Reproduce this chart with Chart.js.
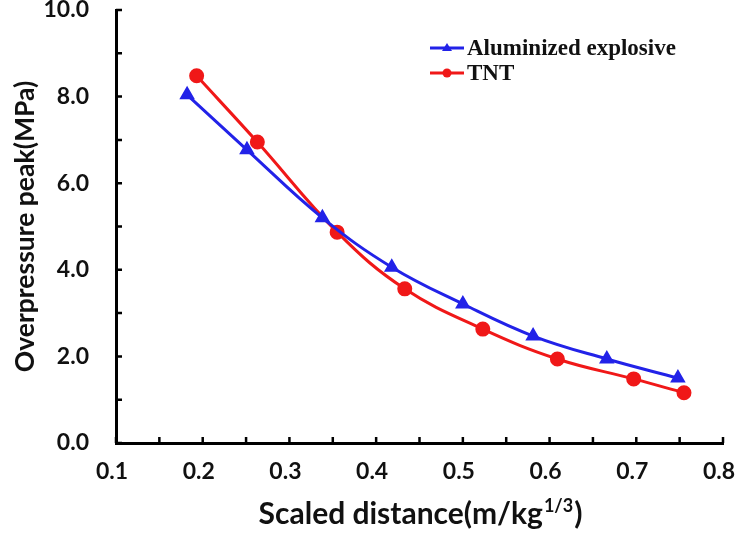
<!DOCTYPE html>
<html>
<head>
<meta charset="utf-8">
<script src="https://cdn.jsdelivr.net/npm/chart.js@4.4.0/dist/chart.umd.min.js"></script>
<style>
  body { margin: 0; background: #fff; }
  #wrap { width: 737px; height: 533px; }
</style>
</head>
<body>
<div id="wrap"><canvas id="myChart" width="737" height="533"></canvas></div>
<script>
// values
var aluX = [0.182, 0.251, 0.338, 0.418, 0.500, 0.581, 0.666, 0.748];
var aluY = [8.04, 6.77, 5.20, 4.06, 3.21, 2.47, 1.94, 1.50];
var tntX = [0.193, 0.263, 0.355, 0.433, 0.523, 0.609, 0.697, 0.755];
var tntY = [8.48, 6.95, 4.87, 3.56, 2.63, 1.94, 1.48, 1.16];
var seriesNames = ["Aluminized explosive", "TNT"];
var yTitle = "Overpressure peak(MPa)";
var xTitle = ["Scaled distance(m/kg", "1/3", ")"];

function toPoints(xs, ys) {
  return xs.map(function (x, i) { return { x: x, y: ys[i] }; });
}

var blue = "#2222e8";
var red = "#f01818";
var tickFont = { family: "Lato", size: 23, weight: "bold" };

// inward tick marks on both axes
var innerTicks = {
  id: "innerTicks",
  afterDraw: function (chart) {
    var ctx = chart.ctx, a = chart.chartArea;
    var xs = chart.scales.x, ys = chart.scales.y;
    ctx.save();
    ctx.strokeStyle = "#000";
    ctx.lineWidth = 2.5;
    ctx.beginPath();
    xs.ticks.forEach(function (t) {
      var px = xs.getPixelForValue(t.value);
      ctx.moveTo(px, a.bottom);
      ctx.lineTo(px, a.bottom - 6);
    });
    ys.ticks.forEach(function (t) {
      var py = ys.getPixelForValue(t.value);
      ctx.moveTo(a.left, py);
      ctx.lineTo(a.left + 6, py);
    });
    ctx.stroke();
    ctx.restore();
  }
};

// x title with superscript part
var xTitlePlugin = {
  id: "xTitlePlugin",
  afterDraw: function (chart) {
    var ctx = chart.ctx, a = chart.chartArea;
    ctx.save();
    ctx.fillStyle = "#111";
    ctx.textBaseline = "alphabetic";
    var big = "bold 30px Lato", small = "bold 18px Lato";
    ctx.font = big;
    var w1 = ctx.measureText(xTitle[0]).width, w3 = ctx.measureText(xTitle[2]).width;
    ctx.font = small;
    var w2 = ctx.measureText(xTitle[1]).width;
    var x = (a.left + a.right) / 2 - (w1 + w2 + w3) / 2;
    var y = 524;
    ctx.font = big;
    ctx.fillText(xTitle[0], x, y);
    ctx.font = small;
    ctx.fillText(xTitle[1], x + w1 + 1, y - 12);
    ctx.font = big;
    ctx.fillText(xTitle[2], x + w1 + w2 + 2, y);
    ctx.restore();
  }
};

// legend in the top right of the plot
var legendPlugin = {
  id: "legendPlugin",
  afterDraw: function (chart) {
    var ctx = chart.ctx;
    ctx.save();
    chart.data.datasets.forEach(function (ds, i) {
      var y = 48 + i * 25;
      ctx.strokeStyle = ds.borderColor;
      ctx.lineWidth = 3;
      ctx.beginPath();
      ctx.moveTo(430, y);
      ctx.lineTo(464, y);
      ctx.stroke();
      ctx.fillStyle = ds.borderColor;
      ctx.beginPath();
      if (ds.pointStyle === "triangle") {
        ctx.moveTo(447, y - 5);
        ctx.lineTo(452, y + 3);
        ctx.lineTo(442, y + 3);
        ctx.closePath();
      } else {
        ctx.arc(447, y, 4.5, 0, Math.PI * 2);
      }
      ctx.fill();
      ctx.fillStyle = "#111";
      ctx.font = "bold 23px 'Liberation Serif'";
      ctx.textBaseline = "middle";
      ctx.fillText(ds.label, 467, y + 1);
    });
    ctx.restore();
  }
};

var ctx = document.getElementById("myChart").getContext("2d");
var myChart = new Chart(ctx, {
  type: "line",
  data: {
    datasets: [{
      label: seriesNames[0],
      data: toPoints(aluX, aluY),
      borderColor: blue,
      backgroundColor: blue,
      borderWidth: 3,
      pointStyle: "triangle",
      pointRadius: 6,
      tension: 0.4,
      fill: false
    }, {
      label: seriesNames[1],
      data: toPoints(tntX, tntY),
      borderColor: red,
      backgroundColor: red,
      borderWidth: 3,
      pointStyle: "circle",
      pointRadius: 6,
      tension: 0.4,
      fill: false
    }]
  },
  options: {
    responsive: false,
    animation: false,
    layout: { padding: { top: 10, right: 14, left: 0, bottom: 0 } },
    plugins: { legend: { display: false }, tooltip: { enabled: false } },
    scales: {
      x: {
        type: "linear",
        min: 0.1,
        max: 0.8,
        grid: { display: false, drawTicks: false },
        border: { display: true, color: "#000", width: 3 },
        ticks: {
          stepSize: 0.05,
          autoSkip: false,
          maxRotation: 0,
          padding: 15,
          labelOffset: -4,
          color: "#111",
          font: tickFont,
          callback: function (v, i) { return i % 2 === 0 ? v.toFixed(1) : ""; }
        },
        afterFit: function (s) { s.height = 90; s.paddingLeft = 0; s.paddingRight = 0; }
      },
      y: {
        min: 0,
        max: 10,
        grid: { display: false, drawTicks: false },
        border: { display: true, color: "#000", width: 3 },
        ticks: {
          stepSize: 1,
          autoSkip: false,
          padding: 27,
          color: "#111",
          font: tickFont,
          callback: function (v) { return v % 2 === 0 ? v.toFixed(1) : ""; }
        },
        title: {
          display: true,
          text: yTitle,
          color: "#111",
          font: { family: "Lato", size: 26.5, weight: "bold" },
          padding: { top: 10, bottom: 0 }
        },
        afterFit: function (s) { s.width = 116; s.paddingTop = 0; s.paddingBottom = 0; }
      }
    }
  },
  plugins: [innerTicks, xTitlePlugin, legendPlugin]
});
</script>
</body>
</html>
